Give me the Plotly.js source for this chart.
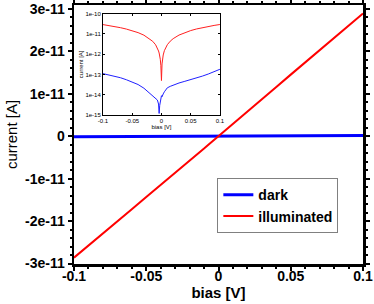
<!DOCTYPE html>
<html>
<head>
<meta charset="utf-8">
<script src="https://cdn.plot.ly/plotly-3.0.1.min.js"></script>
<style>html,body{margin:0;padding:0;background:#fff;}#plot{width:374px;height:304px;}</style>
</head>
<body>
<div id="plot"></div>
<script>
// bias [V]
const bias = [-0.1, -0.09, -0.08, -0.07, -0.06, -0.05, -0.04, -0.03, -0.02, -0.015, -0.01, -0.007, -0.005, -0.004, -0.003, -0.002, -0.001, 0,
  0.001, 0.002, 0.003, 0.005, 0.007, 0.01, 0.015, 0.02, 0.03, 0.04, 0.05, 0.06, 0.07, 0.08, 0.09, 0.1];
// illuminated current [A]
const illuminated = [-2.86e-11, -2.58e-11, -2.30e-11, -2.01e-11, -1.72e-11, -1.43e-11, -1.15e-11, -8.6e-12, -5.7e-12, -4.3e-12, -2.9e-12, -2.0e-12, -1.43e-12, -1.14e-12, -8.5e-13, -5.6e-13, -2.7e-13, 5e-14,
  3.3e-13, 6.2e-13, 9.1e-13, 1.49e-12, 2.06e-12, 2.92e-12, 4.36e-12, 5.8e-12, 8.7e-12, 1.16e-11, 1.45e-11, 1.74e-11, 2.02e-11, 2.31e-11, 2.60e-11, 2.89e-11];
// dark current [A]
const dark = [-1.1e-13, -9.5e-14, -8.2e-14, -6.9e-14, -5.5e-14, -4.3e-14, -3.2e-14, -2.1e-14, -1.2e-14, -9.5e-15, -7e-15, -5.5e-15, -3.5e-15, -1.2e-15, 3e-15, 5e-15, 7e-15, 9e-15,
  8e-15, 1e-14, 1.1e-14, 1.4e-14, 1.7e-14, 2.2e-14, 2.6e-14, 3.0e-14, 3.8e-14, 4.6e-14, 5.5e-14, 6.7e-14, 8.3e-14, 1.05e-13, 1.4e-13, 1.8e-13];

const xTickVals = [-0.1, -0.05, 0, 0.05, 0.1];
const xTickText = ['-0.1', '-0.05', '0', '0.05', '0.1'];
const yTickVals = [-3e-11, -2e-11, -1e-11, 0, 1e-11, 2e-11, 3e-11];
const yTickText = ['-3e-11', '-2e-11', '-1e-11', '0', '1e-11', '2e-11', '3e-11'];
const insetYTickVals = [1e-15, 1e-14, 1e-13, 1e-12, 1e-11, 1e-10];
const insetYTickText = ['1e-15', '1e-14', '1e-13', '1e-12', '1e-11', '1e-10'];

const FONT = 'Liberation Sans, Arial, sans-serif';
const absDark = dark.map(v => Math.abs(v));
const absIll = illuminated.map(v => Math.abs(v));

const traces = [
  {x: bias, y: dark, name: 'dark', mode: 'lines', line: {color: '#0000ff', width: 3}},
  {x: bias, y: illuminated, name: 'illuminated', mode: 'lines', line: {color: '#ff0000', width: 2}},
  {x: bias, y: absIll, xaxis: 'x2', yaxis: 'y2', mode: 'lines', showlegend: false, line: {color: '#ff2020', width: 1}},
  {x: bias, y: absDark, xaxis: 'x2', yaxis: 'y2', mode: 'lines', showlegend: false, line: {color: '#2020ff', width: 1}}
];

const layout = {
  width: 374, height: 304,
  margin: {l: 74, r: 11, t: 5, b: 40},
  paper_bgcolor: '#fff', plot_bgcolor: '#fff',
  font: {family: FONT, color: '#000'},
  showlegend: true,
  legend: {x: 0.496, y: 0.331, xanchor: 'left', yanchor: 'top', bgcolor: '#fff',
    bordercolor: '#808080', borderwidth: 1, itemwidth: 30, tracegroupgap: 0,
    font: {family: FONT, size: 14, weight: 'bold', color: '#000'}},
  xaxis: {
    range: [-0.1, 0.1], tickvals: xTickVals, ticktext: xTickText,
    showline: true, linewidth: 2.5, linecolor: '#000', mirror: 'ticks',
    ticks: 'outside', ticklen: 4, tickwidth: 2, tickcolor: '#000',
    ticklabelstandoff: -6,
    minor: {dtick: 0.01, ticks: 'outside', ticklen: 2, tickwidth: 2, tickcolor: '#000'},
    showgrid: false, zeroline: false,
    tickfont: {family: FONT, size: 14, weight: 'bold'},
    title: {text: 'bias [V]', standoff: 0, font: {family: FONT, size: 15, weight: 'bold'}}
  },
  yaxis: {
    range: [-3.01e-11, 3.09e-11], tickvals: yTickVals, ticktext: yTickText,
    showline: true, linewidth: 2.5, linecolor: '#000', mirror: 'ticks',
    ticks: 'outside', ticklen: 4, tickwidth: 2, tickcolor: '#000',
    minor: {dtick: 2e-12, ticks: 'outside', ticklen: 2, tickwidth: 2, tickcolor: '#000'},
    showgrid: false, zeroline: false,
    tickfont: {family: FONT, size: 14, weight: 'bold'},
    title: {text: 'current [A]', standoff: 4, font: {family: FONT, size: 15}}
  },
  xaxis2: {
    domain: [0.1003, 0.505], anchor: 'y2',
    range: [-0.1, 0.1], tickvals: xTickVals, ticktext: xTickText,
    showline: true, linewidth: 1, linecolor: '#000', mirror: 'ticks',
    ticks: 'inside', ticklen: 2, tickwidth: 1, tickcolor: '#000',
    showgrid: false, zeroline: false,
    tickfont: {family: FONT, size: 6},
    title: {text: 'bias [V]', standoff: 1, font: {family: FONT, size: 6}}
  },
  yaxis2: {
    domain: [0.575, 0.967], anchor: 'x2', type: 'log',
    range: [-15, -10], tickvals: insetYTickVals, ticktext: insetYTickText,
    showline: true, linewidth: 1, linecolor: '#000', mirror: 'ticks',
    ticks: 'inside', ticklen: 2, tickwidth: 1, tickcolor: '#000',
    showgrid: false, zeroline: false,
    tickfont: {family: FONT, size: 6},
    title: {text: 'current [A]', standoff: 1, font: {family: FONT, size: 6}}
  }
};

Plotly.newPlot('plot', traces, layout, {displayModeBar: false, staticPlot: true});
</script>
</body>
</html>
